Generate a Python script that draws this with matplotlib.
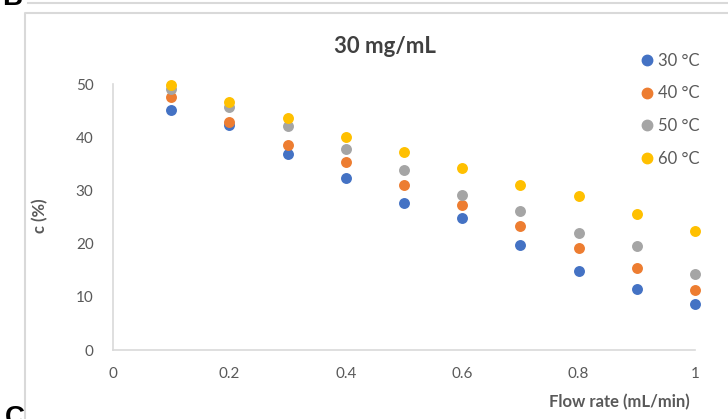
import matplotlib.pyplot as plt
from matplotlib.lines import Line2D

plt.rcParams['font.family'] = ['Lato', 'DejaVu Sans']

flow_rate = [0.1, 0.2, 0.3, 0.4, 0.5, 0.6, 0.7, 0.8, 0.9, 1.0]
c_30 = [45.1, 42.2, 36.8, 32.4, 27.6, 24.9, 19.8, 14.9, 11.5, 8.7]
c_40 = [47.5, 42.8, 38.6, 35.4, 31.0, 27.3, 23.3, 19.1, 15.5, 11.3]
c_50 = [49.0, 45.6, 42.1, 37.7, 33.8, 29.1, 26.2, 21.9, 19.5, 14.2]
c_60 = [49.8, 46.6, 43.6, 40.0, 37.2, 34.2, 31.0, 28.9, 25.5, 22.3]
labels = ['30 °C', '40 °C', '50 °C', '60 °C']
colors = ['#4472c4', '#ed7d31', '#a5a5a5', '#ffc000']
x_ticks = [0, 0.2, 0.4, 0.6, 0.8, 1]
x_tick_labels = ['0', '0.2', '0.4', '0.6', '0.8', '1']
y_ticks = [0, 10, 20, 30, 40, 50]

W, H = 728, 419
fig = plt.figure(figsize=(W / 100, H / 100), dpi=100)

# panel frame (chart area border + bottom of the panel above)
frame = fig.add_axes([0, 0, 1, 1])
frame.set_xlim(0, W)
frame.set_ylim(H, 0)
frame.axis('off')
frame.plot([25, 25, W], [H, 13, 13], color='#d9d9d9', lw=1.5)
frame.plot([28, W], [3, 3], color='#d9d9d9', lw=1.5)
frame.text(2, 5, 'B', fontsize=20, fontweight='bold', family=['Liberation Sans'],
           va='baseline', ha='left', color='black')
frame.text(5, 405, 'C', fontsize=20, fontweight='bold', family=['Liberation Sans'],
           va='top', ha='left', color='black')

ax = fig.add_axes([113 / W, 1 - 350 / H, (695 - 113) / W, (350 - 84) / H])
ax.set_xlim(0, 1)
ax.set_ylim(0, 50)

for series, color in zip([c_30, c_40, c_50, c_60], colors):
    ax.scatter(flow_rate, series, s=62, color=color, zorder=3, clip_on=False,
               linewidths=0)

for side in ['top', 'right']:
    ax.spines[side].set_visible(False)
ax.spines['left'].set_color('#d9d9d9')
ax.spines['bottom'].set_color('#d9d9d9')
ax.spines['left'].set_linewidth(1.2)
ax.spines['bottom'].set_linewidth(1.2)
ax.tick_params(length=0, labelsize=11, labelcolor='#595959', pad=12)
ax.tick_params(axis='y', pad=14)
ax.set_xticks(x_ticks)
ax.set_xticklabels(x_tick_labels)
ax.set_yticks(y_ticks)

fig.text(385 / W, 1 - 46 / H, '30 mg/mL', fontsize=16, fontweight='bold',
         color='#404040', ha='center', va='center')
fig.text(40 / W, 1 - 216 / H, 'c (%)', fontsize=12, fontweight='bold',
         color='#595959', rotation=90, ha='center', va='center')
fig.text(690 / W, 1 - 402 / H, 'Flow rate (mL/min)', fontsize=12, fontweight='bold',
         color='#595959', ha='right', va='center')

handles = [Line2D([], [], marker='o', ls='', color=c, markersize=7.5) for c in colors]
fig.legend(handles, labels, loc='upper left', bbox_to_anchor=(632 / W, 1 - 46 / H),
           frameon=False, fontsize=12, labelcolor='#595959', handletextpad=0.15,
           labelspacing=1.0, handlelength=1.0, borderaxespad=0)

fig.savefig('out.png', dpi=100)
